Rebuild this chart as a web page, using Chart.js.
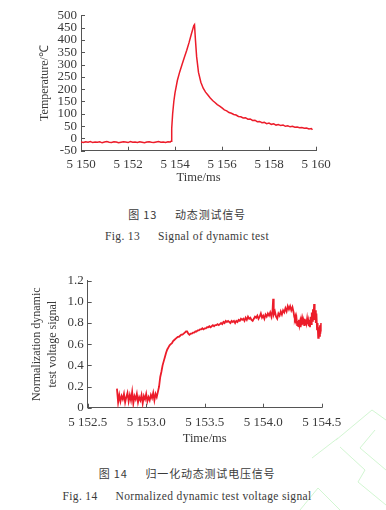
<!DOCTYPE html>
<html><head><meta charset="utf-8">
<script src="https://cdn.jsdelivr.net/npm/chart.js@4.4.0/dist/chart.umd.min.js"></script>
<style>
html,body{margin:0;padding:0;background:#fff;width:386px;height:510px;overflow:hidden;position:relative}
.box{position:absolute;left:0;width:386px;height:200px}
.cap{position:absolute;left:0;width:374px;text-align:center;color:#3a3a3a;white-space:pre;line-height:14px}
.zh{font-family:"Noto Sans CJK SC";font-size:11px;letter-spacing:0.8px}
.en{font-family:"Liberation Serif";font-size:11.5px;letter-spacing:0.35px}
.gap{display:inline-block;width:18px}
svg{position:absolute;left:0;top:0}
</style></head><body>
<svg width="386" height="510">
  <g fill="none" stroke="#c8f5c8" stroke-width="1" opacity="0.8">
    <polyline points="300,510 318,488 340,510"/>
    <polyline points="336,440 372,410 386,420"/>
    <polyline points="340,447 365,470 358,482 386,505"/>
    <polyline points="375,430 360,448 386,470"/>
    <polyline points="312,458 338,438"/>
  </g>
</svg>
<div class="box" style="top:0"><canvas id="c1" width="386" height="200"></canvas></div>
<div class="box" style="top:255px"><canvas id="c2" width="386" height="200"></canvas></div>
<div class="cap zh" style="top:207px">图 13<span class="gap"></span>动态测试信号</div>
<div class="cap en" style="top:229px">Fig. 13<span class="gap"></span>Signal of dynamic test</div>
<div class="cap zh" style="top:466px">图 14<span class="gap"></span>归一化动态测试电压信号</div>
<div class="cap en" style="top:489px">Fig. 14<span class="gap"></span>Normalized dynamic test voltage signal</div>
<script>
// ---------- Chart 1 data (Fig. 13) ----------
const time1 = [
5150.0,5150.1,5150.2,5150.3,5150.4,5150.5,5150.6,5150.7,5150.8,5150.9,
5151.0,5151.1,5151.2,5151.3,5151.4,5151.5,5151.6,5151.7,5151.8,5151.9,
5152.0,5152.1,5152.2,5152.3,5152.4,5152.5,5152.6,5152.7,5152.8,5152.9,
5153.0,5153.1,5153.2,5153.3,5153.4,5153.5,5153.6,5153.7,5153.8,
5153.83,5153.86,5153.9,5153.95,5154.0,5154.1,5154.2,5154.3,5154.4,5154.5,
5154.6,5154.7,5154.8,5154.83,
5154.87,5154.92,5155.0,5155.1,5155.2,5155.3,5155.4,5155.5,5155.6,5155.7,
5155.8,5155.9,5156.0,5156.1,5156.2,5156.3,5156.4,5156.5,5156.6,5156.7,
5156.8,5156.9,5157.0,5157.1,5157.2,5157.3,5157.4,5157.5,5157.6,5157.7,
5157.8,5157.9,5158.0,5158.1,5158.2,5158.3,5158.4,5158.5,5158.6,5158.7,
5158.8,5158.9,5159.0,5159.1,5159.2,5159.3,5159.4,5159.5,5159.6,5159.7,
5159.8,5159.85
];
const temp1 = [
-15,-17,-14,-16,-13,-17,-15,-16,-14,-18,
-15,-13,-16,-17,-14,-15,-18,-16,-14,-15,
-17,-13,-16,-15,-17,-14,-16,-18,-15,-14,
-16,-17,-15,-13,-16,-15,-17,-14,-15,
-12,40,100,150,185,235,270,300,330,358,
390,425,458,462,
400,332,268,228,204,188,176,164,154,146,
137,131,124,116,112,105,102,97,95,89,
88,83,84,78,79,73,74,68,69,64,
65,60,62,57,59,54,56,52,54,49,
51,47,49,45,46,43,44,41,42,38,
40,35
];
const xTicks1 = [5150,5152,5154,5156,5158,5160];
const yTicks1 = [-50,0,50,100,150,200,250,300,350,400,450,500];

// ---------- Chart 2 data (Fig. 14) ----------
const time2 = [
5152.75,5152.76,5152.77,5152.78,5152.79,5152.80,5152.81,5152.82,5152.83,5152.84,
5152.85,5152.86,5152.87,5152.88,5152.89,5152.90,5152.91,5152.92,5152.93,5152.94,
5152.95,5152.96,5152.97,5152.98,5152.99,5153.00,5153.01,5153.02,5153.03,5153.04,
5153.05,5153.06,5153.07,5153.08,5153.09,5153.10,
5153.11,5153.12,5153.13,5153.14,5153.15,5153.16,5153.17,5153.18,5153.19,5153.20,
5153.21,5153.22,5153.23,5153.24,5153.25,5153.26,5153.27,5153.28,5153.29,5153.30,
5153.31,5153.32,5153.33,5153.34,5153.35,5153.36,5153.37,5153.38,5153.39,5153.40,
5153.41,5153.42,5153.43,5153.44,5153.45,5153.46,5153.47,5153.48,5153.49,5153.50,
5153.51,5153.52,5153.53,5153.54,5153.55,5153.56,5153.57,5153.58,5153.59,5153.60,
5153.61,5153.62,5153.63,5153.64,5153.65,5153.66,5153.67,5153.68,5153.69,5153.70,
5153.71,5153.72,5153.73,5153.74,5153.75,5153.76,5153.77,5153.78,5153.79,5153.80,
5153.81,5153.82,5153.83,5153.84,5153.85,5153.86,5153.87,5153.88,5153.89,5153.90,
5153.91,5153.92,5153.93,5153.94,5153.95,5153.96,5153.97,5153.98,5153.99,5154.00,
5154.01,5154.02,5154.03,5154.04,5154.05,5154.06,5154.07,5154.08,5154.085,5154.09,
5154.10,5154.11,5154.12,5154.13,5154.14,5154.15,5154.16,5154.17,5154.18,5154.19,
5154.20,5154.21,5154.22,5154.23,5154.24,5154.25,
5154.26,5154.265,5154.27,5154.275,5154.28,5154.285,5154.29,5154.295,5154.30,5154.305,
5154.31,5154.315,5154.32,5154.325,5154.33,5154.335,5154.34,5154.345,5154.35,5154.355,
5154.36,5154.365,5154.37,5154.375,5154.38,5154.385,5154.39,5154.395,5154.40,5154.405,
5154.41,5154.415,5154.42,5154.425,5154.43,5154.435,5154.44,5154.445,5154.45,5154.455,
5154.46,5154.465,5154.47,5154.475,5154.48,5154.485,5154.49,5154.495,5154.50,5154.505
];
const volt2 = [
0.18,0.05,0.12,0.06,0.11,0.08,0.13,0.05,0.10,0.14,
0.06,0.12,0.07,0.15,0.04,0.11,0.08,0.13,0.05,0.10,
0.07,0.12,0.04,0.11,0.08,0.13,0.06,0.10,0.07,0.12,
0.09,0.14,0.07,0.13,0.10,0.15,
0.20,0.29,0.34,0.40,0.44,0.48,0.52,0.55,0.57,0.59,
0.60,0.61,0.63,0.64,0.65,0.66,0.67,0.67,0.68,0.69,
0.69,0.70,0.71,0.72,0.72,0.70,0.69,0.70,0.70,0.71,
0.71,0.72,0.72,0.73,0.73,0.74,0.74,0.75,0.74,0.75,
0.75,0.76,0.76,0.77,0.76,0.77,0.78,0.77,0.78,0.78,
0.79,0.78,0.79,0.80,0.79,0.81,0.80,0.82,0.81,0.82,
0.81,0.80,0.82,0.81,0.82,0.80,0.82,0.81,0.83,0.82,
0.84,0.83,0.84,0.82,0.85,0.83,0.86,0.84,0.85,0.83,
0.82,0.84,0.86,0.85,0.87,0.84,0.86,0.89,0.85,0.87,
0.84,0.88,0.86,0.89,0.87,0.90,0.86,0.92,1.03,0.88,
0.91,0.86,0.84,0.89,0.87,0.91,0.88,0.92,0.90,0.94,
0.91,0.96,0.93,0.96,0.92,0.95,
0.90,0.86,0.84,0.86,0.80,0.84,0.78,0.82,0.77,0.83,
0.78,0.81,0.76,0.82,0.78,0.83,0.79,0.82,0.78,0.84,
0.79,0.83,0.80,0.84,0.79,0.82,0.77,0.83,0.76,0.86,
0.79,0.90,0.82,0.93,0.84,0.98,0.83,0.92,0.80,0.89,
0.74,0.80,0.66,0.76,0.68,0.78,0.70,0.80,0.72,0.82
];
const xTicks2 = [5152.5,5153.0,5153.5,5154.0,5154.5];
const yTicks2 = [0,0.2,0.4,0.6,0.8,1.0,1.2];

// ---------- helpers ----------
const AXIS = '#555';
const TXT = '#3a3a3a';
const RED = '#ec1c2a';
const serif = 'Liberation Serif';

function spaced(v, dec){
  let s = v.toFixed(dec);
  const [i, f] = s.split('.');
  const ii = i.length > 3 ? i.slice(0, i.length-3) + ' ' + i.slice(-3) : i;
  return f !== undefined ? ii + '.' + f : ii;
}

const inwardTicks = {
  id: 'inwardTicks',
  afterDraw(chart){
    const {ctx, chartArea: a, scales: {x, y}} = chart;
    ctx.save();
    ctx.strokeStyle = AXIS; ctx.lineWidth = 1;
    ctx.beginPath();
    x.ticks.forEach((t, i) => {
      const px = Math.round(x.getPixelForTick(i)) + 0.5;
      ctx.moveTo(px, a.bottom); ctx.lineTo(px, a.bottom - 4);
    });
    y.ticks.forEach((t, i) => {
      const py = Math.round(y.getPixelForTick(i)) + 0.5;
      ctx.moveTo(a.left, py); ctx.lineTo(a.left + 4, py);
    });
    ctx.stroke();
    ctx.restore();
  }
};

function makeChart(id, times, vals, xT, yT, cfg){
  const pts = times.map((t, i) => ({x: t, y: vals[i]}));
  return new Chart(document.getElementById(id), {
    type: 'line',
    data: {datasets: [{data: pts, borderColor: RED, borderWidth: cfg.lw, pointRadius: 0, tension: 0, fill: false}]},
    options: {
      responsive: false, animation: false,
      layout: {padding: cfg.padding},
      plugins: {legend: {display: false}, tooltip: {enabled: false}},
      scales: {
        x: {
          type: 'linear', min: xT[0], max: xT[xT.length-1],
          afterBuildTicks: s => { s.ticks = xT.map(v => ({value: v})); },
          afterFit: s => { s.height = cfg.xh; },
          grid: {display: false, drawTicks: false},
          border: {display: true, color: AXIS, width: 1},
          ticks: {color: TXT, padding: cfg.xpad, maxRotation: 0, autoSkip: false,
                  font: {family: serif, size: 13},
                  callback: v => spaced(v, cfg.xdec)},
          title: {display: true, text: 'Time/ms', color: TXT,
                  font: {family: serif, size: 12.5}, padding: {top: 0, bottom: cfg.xtpad}}
        },
        y: {
          min: yT[0], max: yT[yT.length-1],
          afterBuildTicks: s => { s.ticks = yT.map(v => ({value: v})); },
          afterFit: s => { s.width = cfg.yw; },
          grid: {display: false, drawTicks: false},
          border: {display: true, color: AXIS, width: 1},
          ticks: {color: TXT, padding: 4, autoSkip: false,
                  font: {family: serif, size: 13},
                  callback: v => (v === 0 ? '0' : v.toFixed(cfg.ydec))},
          title: {display: true, text: cfg.ytitle, color: TXT,
                  font: {family: serif, size: 12, lineHeight: 1.33}, padding: {top: cfg.ytpad, bottom: 0}}
        }
      }
    },
    plugins: [inwardTicks]
  });
}

makeChart('c1', time1, temp1, xTicks1, yTicks1, {
  padding: {left: 0, right: 70, top: 15.3, bottom: 0},
  xh: 49.3, yw: 81, xpad: 6, xtpad: 14.5, ytpad: 37, xdec: 0, ydec: 0, lw: 1.5,
  ytitle: 'Temperature/℃'
});
makeChart('c2', time2, volt2, xTicks2, yTicks2, {
  padding: {left: 0, right: 64.3, top: 25.7, bottom: 0},
  xh: 47.3, yw: 87.7, xpad: 7, xtpad: 8.5, ytpad: 29, xdec: 1, ydec: 1, lw: 1.8,
  ytitle: ['Normalization dynamic', 'test voltage signal']
});
</script>
</body></html>
